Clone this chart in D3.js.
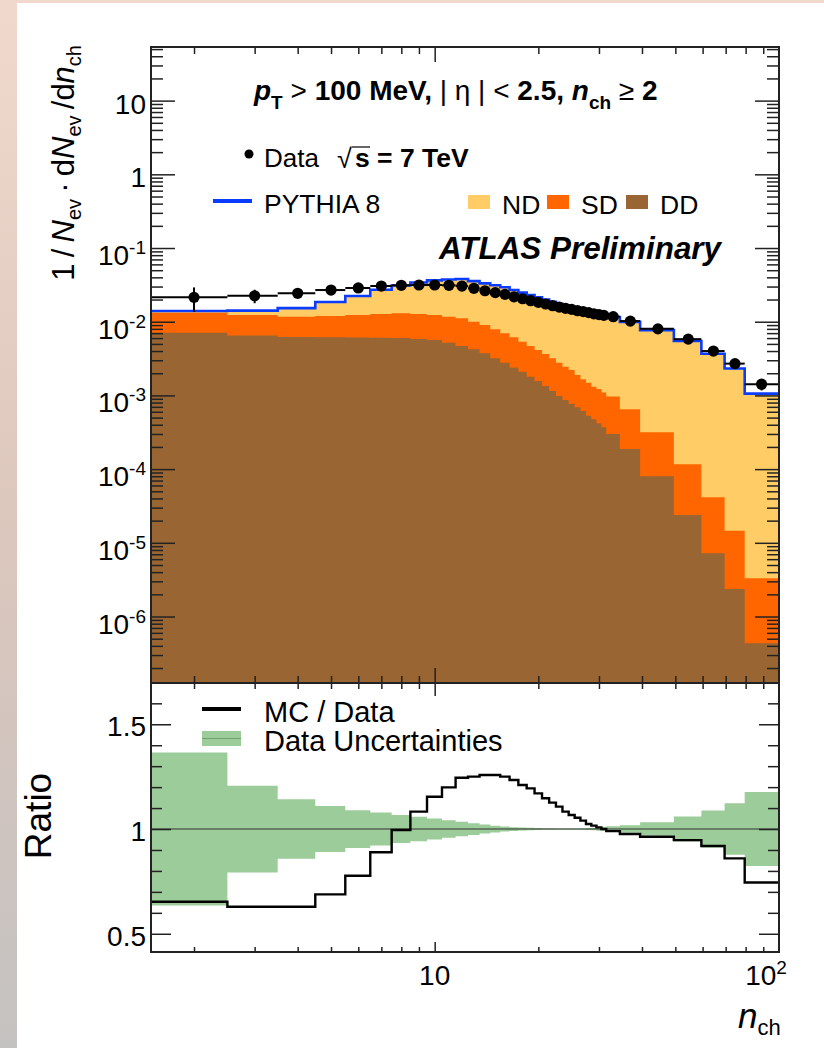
<!DOCTYPE html>
<meta charset="utf-8">
<style>
  body { margin: 0; }
  text { font-family: "Liberation Sans", Arial, Helvetica, sans-serif; fill: #000; }
</style>
<svg width="824" height="1048"></svg>
<script src="https://cdn.jsdelivr.net/npm/d3@7"></script>
<script>

// bin edges in n_ch (unit bins up to 31, wider bins above)
var binEdges = [1.5, 2.5, 3.5, 4.5, 5.5, 6.5, 7.5, 8.5, 9.5, 10.5, 11.5, 12.5, 13.5, 14.5, 15.5,
  16.5, 17.5, 18.5, 19.5, 20.5, 21.5, 22.5, 23.5, 24.5, 25.5, 26.5, 27.5, 28.5, 29.5, 30.5, 31.5,
  34.5, 39.5, 49.5, 59.5, 69.5, 79.5, 100];
var dataX = [2, 3, 4, 5, 6, 7, 8, 9, 10, 11, 12, 13, 14, 15, 16, 17, 18, 19, 20, 21, 22, 23, 24,
  25, 26, 27, 28, 29, 30, 31, 33, 37, 44.5, 54.5, 64.5, 74.5, 89];

// data 1/Nev dNev/dnch
var dataY = [0.0214, 0.0225, 0.0243, 0.0269, 0.0287, 0.0305, 0.0312, 0.0315, 0.0315, 0.0312,
  0.0305, 0.0284, 0.0263, 0.0248, 0.0235, 0.0218, 0.0205, 0.0193, 0.0183, 0.0174, 0.0165, 0.0158,
  0.0152, 0.0147, 0.0141, 0.0137, 0.0133, 0.0128, 0.0125, 0.0122, 0.0117, 0.0102, 0.0080, 0.0058,
  0.0040, 0.0027, 0.00142];
// relative data uncertainty
var dataErr = [0.365, 0.207, 0.142, 0.11, 0.09, 0.079, 0.067, 0.058, 0.05, 0.042, 0.035, 0.028,
  0.021, 0.016, 0.012, 0.009, 0.007, 0.006, 0.005, 0.004, 0.004, 0.003, 0.003, 0.003, 0.003, 0.004,
  0.005, 0.006, 0.008, 0.01, 0.013, 0.018, 0.032, 0.06, 0.088, 0.123, 0.177];

// PYTHIA 8 components
var mcND = [0.00072, 0.00182, 0.00359, 0.00656, 0.00997, 0.01439, 0.01804, 0.02139, 0.02402,
  0.02572, 0.02685, 0.0255, 0.02407, 0.02331, 0.02242, 0.02076, 0.01945, 0.01836, 0.01728, 0.01632,
  0.01539, 0.01471, 0.01401, 0.01347, 0.01297, 0.0126, 0.01213, 0.01169, 0.01138, 0.0111, 0.01061,
  0.00931, 0.00738, 0.00537, 0.00364, 0.0023, 0.001055];
var mcSD = [0.00616, 0.00583, 0.00549, 0.00581, 0.00623, 0.00665, 0.00699, 0.0069, 0.00668,
  0.0065, 0.00644, 0.00578, 0.00529, 0.0047, 0.00418, 0.00374, 0.00325, 0.00289, 0.002562,
  0.002299, 0.002042, 0.001798, 0.001584, 0.001446, 0.0012, 0.00104, 0.000957, 0.000838, 0.000803,
  0.000726, 0.000667, 0.000461, 0.0002357, 0.0000928, 0.0000342, 0.00001223, 0.00000287];
var mcDD = [0.00709, 0.0065, 0.0062, 0.00614, 0.0061, 0.00607, 0.00601, 0.00582, 0.00565,
  0.00519, 0.00468, 0.00422, 0.00373, 0.00319, 0.00278, 0.0024, 0.0021, 0.00179, 0.001568,
  0.001341, 0.001148, 0.000982, 0.000866, 0.000764, 0.00069, 0.000614, 0.00053, 0.000474, 0.000418,
  0.000369, 0.0002994, 0.0001874, 0.0000799, 0.0000238, 0.0000072, 0.00000236, 0.000000433];

// MC / Data
var ratioMC = [0.653, 0.629, 0.629, 0.688, 0.777, 0.889, 0.995, 1.083, 1.154, 1.199, 1.245, 1.25,
  1.258, 1.258, 1.25, 1.234, 1.21, 1.194, 1.17, 1.147, 1.126, 1.107, 1.083, 1.067, 1.054, 1.04,
  1.024, 1.016, 1.008, 1.0, 0.99, 0.976, 0.963, 0.947, 0.919, 0.86, 0.745];

var yExponents = [-6, -5, -4, -3, -2, -1, 0, 1];
var ratioLabels = [0.5, 1, 1.5];
var xMajor = [10, 100];

var svg = d3.select("svg"),
    W = +svg.attr("width"),
    H = +svg.attr("height");

var left = 151, right = 779, top1 = 47, bot1 = 683, bot2 = 952;

// background frame
var grad = svg.append("defs").append("linearGradient")
    .attr("id", "bg").attr("x1", 0).attr("y1", 0).attr("x2", 0).attr("y2", 1);
grad.append("stop").attr("offset", "0%").attr("stop-color", "#f0d9cc");
grad.append("stop").attr("offset", "50%").attr("stop-color", "#dcc7bd");
grad.append("stop").attr("offset", "100%").attr("stop-color", "#c4c2c0");
svg.append("rect").attr("width", W).attr("height", H).attr("fill", "url(#bg)");
svg.append("rect").attr("x", 17).attr("y", 3).attr("width", W - 17).attr("height", H - 3).attr("fill", "#fff");

var x = d3.scaleLog().domain([1.5, 100]).range([left, right]);
var y = d3.scaleLog().domain([1.253e-7, 53.4]).range([bot1, top1]);
var yr = d3.scaleLinear().domain([0.413, 1.697]).range([bot2, bot1]);

var bins = dataX.map(function(c, i) {
  return {
    x0: binEdges[i], x1: binEdges[i + 1], c: c,
    data: dataY[i], err: dataErr[i],
    dd: mcDD[i], sdc: mcDD[i] + mcSD[i], tot: mcDD[i] + mcSD[i] + mcND[i],
    ratio: ratioMC[i]
  };
});

function steps(acc) {
  var pts = [];
  bins.forEach(function(b) { pts.push([b.x0, acc(b), b], [b.x1, acc(b), b]); });
  return pts;
}

svg.append("clipPath").attr("id", "c1").append("rect")
    .attr("x", left).attr("y", top1).attr("width", right - left).attr("height", bot1 - top1);
svg.append("clipPath").attr("id", "c2").append("rect")
    .attr("x", left).attr("y", bot1).attr("width", right - left).attr("height", bot2 - bot1);

// ---- top panel ----
var g1 = svg.append("g").attr("clip-path", "url(#c1)");
var area = d3.area().x(function(d) { return x(d[0]); }).y0(bot1).y1(function(d) { return y(d[1]); });

g1.append("path").attr("d", area(steps(function(b) { return b.tot; }))).attr("fill", "#ffcc66");
g1.append("path").attr("d", area(steps(function(b) { return b.sdc; }))).attr("fill", "#ff6600");
g1.append("path").attr("d", area(steps(function(b) { return b.dd; }))).attr("fill", "#996633");

var line = d3.line().x(function(d) { return x(d[0]); }).y(function(d) { return y(d[1]); });
g1.append("path").attr("d", line(steps(function(b) { return b.tot; })))
    .attr("fill", "none").attr("stroke", "#0a3cff").attr("stroke-width", 2.6);

var pts = g1.selectAll("g.pt").data(bins).enter().append("g").attr("class", "pt");
pts.append("line")
    .attr("x1", function(d) { return x(d.x0); }).attr("x2", function(d) { return x(d.x1); })
    .attr("y1", function(d) { return y(d.data); }).attr("y2", function(d) { return y(d.data); })
    .attr("stroke", "#000").attr("stroke-width", 2);
pts.append("line")
    .attr("x1", function(d) { return x(d.c); }).attr("x2", function(d) { return x(d.c); })
    .attr("y1", function(d) { return y(d.data * (1 - d.err)); })
    .attr("y2", function(d) { return y(d.data * (1 + d.err)); })
    .attr("stroke", "#000").attr("stroke-width", 2);
pts.append("circle")
    .attr("cx", function(d) { return x(d.c); }).attr("cy", function(d) { return y(d.data); })
    .attr("r", 5.6).attr("fill", "#000");

// ---- ratio panel ----
var g2 = svg.append("g").attr("clip-path", "url(#c2)");
var band = d3.area().x(function(d) { return x(d[0]); })
    .y0(function(d) { return yr(1 - d[2].err); }).y1(function(d) { return yr(1 + d[2].err); });
g2.append("path").attr("d", band(steps(function(b) { return 1; }))).attr("fill", "#9ccc99");
g2.append("line").attr("x1", left).attr("x2", right).attr("y1", yr(1)).attr("y2", yr(1))
    .attr("stroke", "#333").attr("stroke-width", 1.2);
var rline = d3.line().x(function(d) { return x(d[0]); }).y(function(d) { return yr(d[1]); });
g2.append("path").attr("d", rline(steps(function(b) { return b.ratio; })))
    .attr("fill", "none").attr("stroke", "#000").attr("stroke-width", 2.4);

// ---- ticks ----
function ticks(gen, scale, vals, size, tx, ty) {
  svg.append("g").attr("transform", "translate(" + tx + "," + ty + ")")
      .call(gen(scale).tickValues(vals).tickSize(size).tickFormat(""))
      .call(function(g) { g.select(".domain").remove(); })
      .selectAll("line").attr("stroke", "#222").attr("stroke-width", 1.5);
}
var xMinor = [];
[1, 10].forEach(function(m) { for (var k = 2; k <= 9; k++) xMinor.push(k * m); });
var yMinor = [];
for (var e = -7; e <= 1; e++) for (var k = 2; k <= 9; k++) {
  var v = k * Math.pow(10, e);
  if (v > y.domain()[0] && v < y.domain()[1]) yMinor.push(v);
}
var yMajor = yExponents.map(function(e) { return Math.pow(10, e); });
var rMinor = [0.6, 0.7, 0.8, 0.9, 1.1, 1.2, 1.3, 1.4, 1.6];

// top panel
ticks(d3.axisBottom, x, xMinor, -7, 0, bot1);
ticks(d3.axisBottom, x, [10], -15, 0, bot1);
ticks(d3.axisTop, x, xMinor, -7, 0, top1);
ticks(d3.axisTop, x, [10], -15, 0, top1);
ticks(d3.axisLeft, y, yMinor, -12, left, 0);
ticks(d3.axisLeft, y, yMajor, -24, left, 0);
ticks(d3.axisRight, y, yMinor, -12, right, 0);
ticks(d3.axisRight, y, yMajor, -24, right, 0);
// ratio panel
ticks(d3.axisTop, x, xMinor, -6, 0, bot1);
ticks(d3.axisTop, x, [10], -13, 0, bot1);
ticks(d3.axisBottom, x, xMinor, -5, 0, bot2);
ticks(d3.axisBottom, x, [10], -10, 0, bot2);
ticks(d3.axisLeft, yr, rMinor, -11, left, 0);
ticks(d3.axisLeft, yr, ratioLabels, -20, left, 0);
ticks(d3.axisRight, yr, rMinor, -11, right, 0);
ticks(d3.axisRight, yr, ratioLabels, -20, right, 0);

// frames
[[top1, bot1], [bot1, bot2]].forEach(function(p) {
  svg.append("rect").attr("x", left).attr("y", p[0]).attr("width", right - left).attr("height", p[1] - p[0])
      .attr("fill", "none").attr("stroke", "#222").attr("stroke-width", 2);
});

// ---- tick labels ----
yExponents.forEach(function(e) {
  var ty = y(Math.pow(10, e));
  var t = svg.append("text").attr("x", 146).attr("text-anchor", "end").attr("font-size", 28);
  if (e === 0 || e === 1) {
    t.attr("y", ty + 13).text(e === 0 ? "1" : "10");
  } else {
    t.attr("y", ty + 17);
    t.append("tspan").text("10");
    t.append("tspan").attr("font-size", 19).attr("dy", -11).text(e);
  }
});
ratioLabels.forEach(function(v) {
  svg.append("text").attr("x", 146).attr("y", yr(v) + 12).attr("text-anchor", "end")
      .attr("font-size", 28).text(v);
});
svg.append("text").attr("x", x(10)).attr("y", 985).attr("text-anchor", "middle")
    .attr("font-size", 28).text("10");
var t100 = svg.append("text").attr("x", x(100) - 13).attr("y", 985).attr("text-anchor", "middle")
    .attr("font-size", 28);
t100.append("tspan").text("10");
t100.append("tspan").attr("font-size", 19).attr("dy", -11).text("2");

// ---- axis titles ----
var yt = svg.append("text").attr("transform", "translate(74,45) rotate(-90)")
    .attr("text-anchor", "end").attr("font-size", 31);
yt.append("tspan").text("1\u2009/\u2009");
yt.append("tspan").attr("font-style", "italic").text("N");
yt.append("tspan").attr("font-size", 20).attr("dy", 7).text("ev");
yt.append("tspan").attr("dy", -7).text("\u2009·\u2009d");
yt.append("tspan").attr("font-style", "italic").text("N");
yt.append("tspan").attr("font-size", 20).attr("dy", 7).text("ev");
yt.append("tspan").attr("dy", -7).text("\u2009/d");
yt.append("tspan").attr("font-style", "italic").text("n");
yt.append("tspan").attr("font-size", 20).attr("dy", 7).text("ch");

svg.append("text").attr("transform", "translate(51,816) rotate(-90)")
    .attr("text-anchor", "middle").attr("font-size", 37).text("Ratio");

var xt = svg.append("text").attr("x", 738).attr("y", 1028).attr("font-size", 35);
xt.append("tspan").attr("font-style", "italic").text("n");
xt.append("tspan").attr("font-size", 22).attr("dy", 7).text("ch");

// ---- title and legends ----
var tt = svg.append("text").attr("x", 254).attr("y", 100).attr("font-size", 28).attr("font-weight", "bold");
tt.append("tspan").attr("font-style", "italic").text("p");
tt.append("tspan").attr("font-size", 19).attr("dy", 9).text("T");
tt.append("tspan").attr("dy", -9).attr("font-weight", "normal").text(" > ");
tt.append("tspan").text("100 MeV,");
tt.append("tspan").attr("font-weight", "normal").text(" | η | < ");
tt.append("tspan").text("2.5, ");
tt.append("tspan").attr("font-style", "italic").text("n");
tt.append("tspan").attr("font-size", 19).attr("dy", 9).text("ch");
tt.append("tspan").attr("dy", -9).attr("font-weight", "normal").text(" ≥ ");
tt.append("tspan").text("2");

svg.append("circle").attr("cx", 249).attr("cy", 154).attr("r", 4.5).attr("fill", "#000");
svg.append("text").attr("x", 264).attr("y", 167).attr("font-size", 26).text("Data");
svg.append("text").attr("x", 337).attr("y", 168).attr("font-size", 27).text("√");
svg.append("line").attr("x1", 352).attr("x2", 370).attr("y1", 147).attr("y2", 147)
    .attr("stroke", "#000").attr("stroke-width", 1.2);
svg.append("text").attr("x", 355).attr("y", 167).attr("font-size", 26.5).attr("font-weight", "bold")
    .text("s = 7 TeV");

svg.append("line").attr("x1", 213).attr("x2", 252).attr("y1", 201).attr("y2", 201)
    .attr("stroke", "#0a3cff").attr("stroke-width", 4);
svg.append("text").attr("x", 264).attr("y", 213).attr("font-size", 26.5).text("PYTHIA 8");

var comps = [["ND", "#ffcc66", 468], ["SD", "#ff6600", 547], ["DD", "#996633", 626]];
comps.forEach(function(c) {
  svg.append("rect").attr("x", c[2]).attr("y", 195).attr("width", 22).attr("height", 14).attr("fill", c[1]);
  svg.append("text").attr("x", c[2] + 34).attr("y", 214).attr("font-size", 26.5).text(c[0]);
});

svg.append("text").attr("x", 439).attr("y", 259).attr("font-size", 31.4)
    .attr("font-weight", "bold").attr("font-style", "italic").text("ATLAS Preliminary");

svg.append("line").attr("x1", 202).attr("x2", 241).attr("y1", 709).attr("y2", 709)
    .attr("stroke", "#000").attr("stroke-width", 4);
svg.append("text").attr("x", 264).attr("y", 722).attr("font-size", 29).text("MC / Data");
svg.append("rect").attr("x", 202).attr("y", 731).attr("width", 39).attr("height", 15).attr("fill", "#9ccc99");
svg.append("line").attr("x1", 202).attr("x2", 241).attr("y1", 738.5).attr("y2", 738.5)
    .attr("stroke", "#6f9f6d").attr("stroke-width", 1);
svg.append("text").attr("x", 264).attr("y", 751).attr("font-size", 29).text("Data Uncertainties");

</script>
